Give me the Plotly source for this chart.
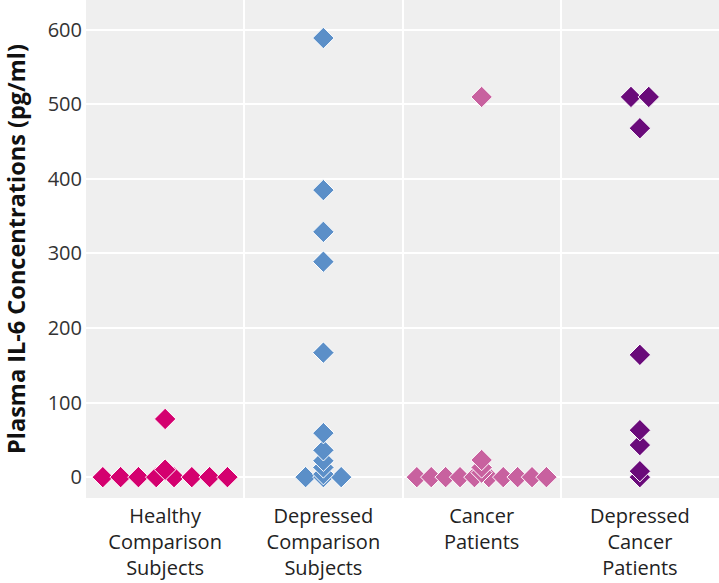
import plotly.graph_objects as go
from collections import Counter

categories = ["Healthy<br>Comparison<br>Subjects",
              "Depressed<br>Comparison<br>Subjects",
              "Cancer<br>Patients",
              "Depressed<br>Cancer<br>Patients"]

healthy = [0, 0, 0, 0, 0, 0, 0, 0, 10, 78]
depressed = [0, 0, 0, 4, 13, 22, 36, 59, 167, 289, 329, 385, 589]
cancer = [0, 0, 0, 0, 0, 0, 0, 0, 0, 0, 6, 13, 23, 510]
depressed_cancer = [0, 8, 43, 63, 164, 468, 510, 510]

series = [healthy, depressed, cancer, depressed_cancer]
colors = ["#D4006F", "#5B8FC8", "#C8619F", "#6A0B7A"]

y_ticks = [0, 100, 200, 300, 400, 500, 600]

PLOT_W = 633.0
UNIT_PX = PLOT_W / 4.0
DOT_PX = 17.8
ROW_MAX_PX = 144.0


def swarm(values, center):
    """Spread equal values side by side; distinct values stack at center."""
    counts = Counter(values)
    seen = Counter()
    xs, ys = [], []
    for v in sorted(values):
        n = counts[v]
        step = min(DOT_PX, ROW_MAX_PX / n) / UNIT_PX
        i = seen[v]
        seen[v] += 1
        xs.append(center + (i - (n - 1) / 2.0) * step)
        ys.append(v)
    return xs, ys


fig = go.Figure()
for k, (vals, col) in enumerate(zip(series, colors)):
    xs, ys = swarm(vals, k + 1)
    fig.add_trace(go.Scatter(
        x=xs, y=ys, mode="markers",
        marker=dict(symbol="diamond", size=16.5, color=col,
                    line=dict(color="white", width=1)),
        showlegend=False, hoverinfo="y"))

font_fam = "Open Sans, Noto Sans, sans-serif"
fig.update_layout(
    width=719, height=583,
    margin=dict(l=86, r=0, t=0, b=85, pad=0),
    paper_bgcolor="white", plot_bgcolor="#EFEFEF",
    font=dict(family=font_fam, size=20, color="#333333"),
)
fig.update_xaxes(
    range=[0.5, 4.5], automargin=False,
    tickvals=[1, 2, 3, 4], ticktext=categories,
    showgrid=False, zeroline=False, showline=False, ticks="",
    tickfont=dict(size=20, color="#222222"),
    ticklabelstandoff=4,
    minor=dict(tickvals=[1.5, 2.5, 3.5], showgrid=True,
               gridcolor="white", gridwidth=2, ticks=""),
)
fig.update_yaxes(
    range=[-28, 640], automargin=False,
    tickvals=y_ticks,
    showgrid=True, gridcolor="white", gridwidth=2,
    zeroline=False, showline=False, ticks="",
    tickfont=dict(size=20, color="#333333"),
    ticklabelstandoff=3,
    title=dict(text="<b>Plasma IL-6 Concentrations (pg/ml)</b>",
               font=dict(size=23.5, color="#111111"), standoff=24),
)

fig.write_html(
    "out.html",
    config={"displayModeBar": False},
    post_script="document.body.style.margin='0';document.body.style.overflow='hidden';",
)
